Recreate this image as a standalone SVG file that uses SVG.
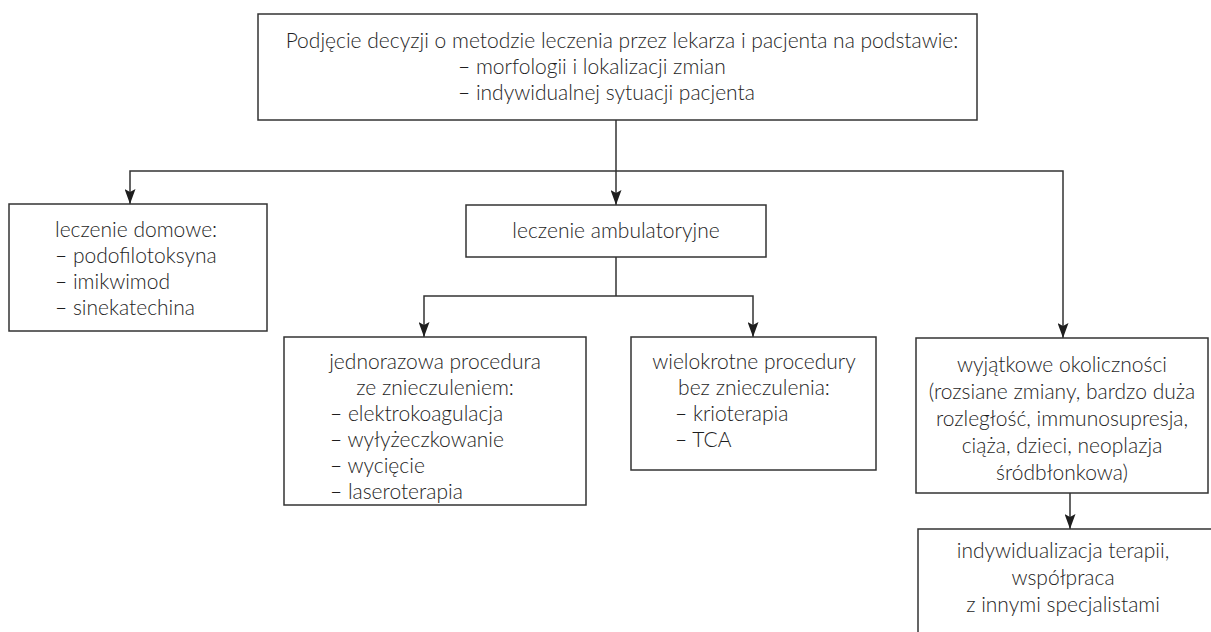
<svg xmlns="http://www.w3.org/2000/svg" width="1211" height="632" viewBox="0 0 1211 632">
<style>
.box{fill:#fff;stroke:#333;stroke-width:1.5}
.t{font-family:Lato,"Open Sans","Liberation Sans",sans-serif;font-weight:300;font-size:21px;fill:#1e1e1e}
.c{text-anchor:middle}
.ln{fill:none;stroke:#333;stroke-width:1.5}
</style>
<defs>
<marker id="ah" markerWidth="15" markerHeight="11" refX="15" refY="5.5" orient="auto-start-reverse" markerUnits="userSpaceOnUse" viewBox="0 0 15 11">
<path d="M0,0 L15,5.5 L0,11 L3,5.5 Z" fill="#1e1e1e"/>
</marker>
</defs>
<rect width="1211" height="632" fill="#fff"/>
<g id="connectors">
<line class="ln" x1="616" y1="120" x2="616" y2="205" marker-end="url(#ah)"/>
<polyline class="ln" points="130,204 130,171 1063,171 1063,338" marker-start="url(#ah)" marker-end="url(#ah)"/>
<line class="ln" x1="616" y1="257" x2="616" y2="296"/>
<polyline class="ln" points="424,337 424,296 753,296 753,337" marker-start="url(#ah)" marker-end="url(#ah)"/>
<line class="ln" x1="1070" y1="493" x2="1070" y2="529" marker-end="url(#ah)"/>
</g>
<g id="top">
<rect class="box" x="258" y="14" width="719" height="106"/>
<text class="t c" x="622" y="48">Podjęcie decyzji o metodzie leczenia przez lekarza i pacjenta na podstawie:</text>
<text class="t" x="458" y="74">– morfologii i lokalizacji zmian</text>
<text class="t" x="458" y="100">– indywidualnej sytuacji pacjenta</text>
</g>
<g id="home">
<rect class="box" x="9" y="204" width="258" height="127"/>
<text class="t" x="55" y="237">leczenie domowe:</text>
<text class="t" x="55" y="263">– podofilotoksyna</text>
<text class="t" x="55" y="289">– imikwimod</text>
<text class="t" x="55" y="315">– sinekatechina</text>
</g>
<g id="amb">
<rect class="box" x="466" y="205" width="300" height="52"/>
<text class="t c" x="616" y="238">leczenie ambulatoryjne</text>
</g>
<g id="single">
<rect class="box" x="284" y="337" width="302" height="168"/>
<text class="t c" x="435" y="369">jednorazowa procedura</text>
<text class="t c" x="435" y="395">ze znieczuleniem:</text>
<text class="t" x="330" y="421">– elektrokoagulacja</text>
<text class="t" x="330" y="447">– wyłyżeczkowanie</text>
<text class="t" x="330" y="473">– wycięcie</text>
<text class="t" x="330" y="499">– laseroterapia</text>
</g>
<g id="multi">
<rect class="box" x="631" y="337" width="245" height="133"/>
<text class="t c" x="754" y="369">wielokrotne procedury</text>
<text class="t c" x="754" y="395">bez znieczulenia:</text>
<text class="t" x="675" y="421">– krioterapia</text>
<text class="t" x="675" y="447">– TCA</text>
</g>
<g id="special">
<rect class="box" x="916" y="338" width="292" height="155"/>
<text class="t c" x="1062" y="372">wyjątkowe okoliczności</text>
<text class="t c" x="1062" y="399">(rozsiane zmiany, bardzo duża</text>
<text class="t c" x="1062" y="426">rozległość, immunosupresja,</text>
<text class="t c" x="1062" y="453">ciąża, dzieci, neoplazja</text>
<text class="t c" x="1062" y="480">śródbłonkowa)</text>
</g>
<g id="indiv">
<rect class="box" x="918" y="529" width="300" height="120"/>
<text class="t c" x="1063" y="558">indywidualizacja terapii,</text>
<text class="t c" x="1063" y="585">współpraca</text>
<text class="t c" x="1063" y="612">z innymi specjalistami</text>
</g>
</svg>
